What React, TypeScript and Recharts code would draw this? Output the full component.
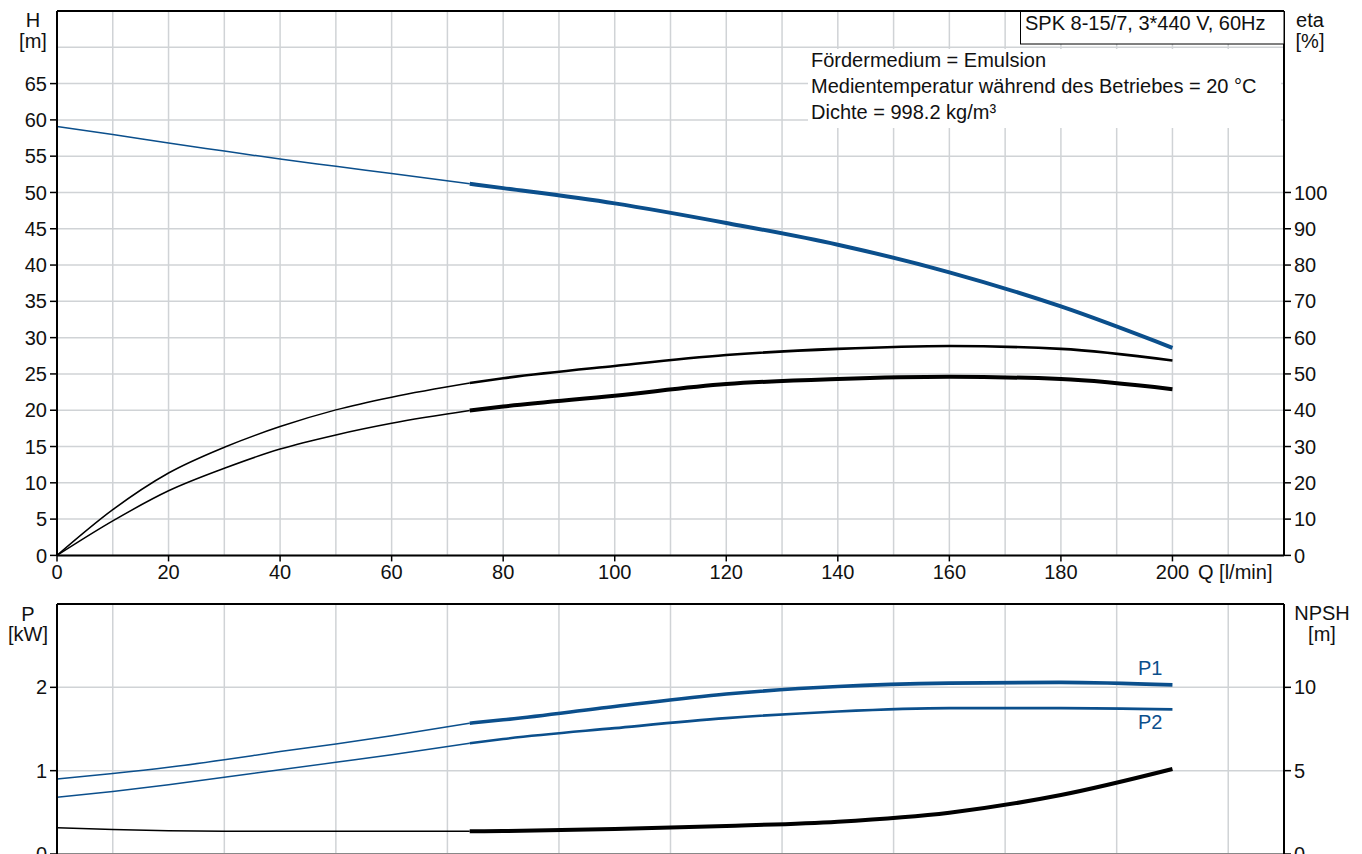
import { CartesianGrid, Line, LineChart, ReferenceLine, XAxis, YAxis } from "recharts";

const BLUE = "#0b4f8c";
const GRID = "#d0d3d6";
const INK = "#111";
const FONT = "'Liberation Sans', Arial, sans-serif";
const FS = 20;

// flow points: thin part of the curves up to 74 l/min, thick part after
const qThin = [0, 10, 20, 30, 40, 50, 60, 74];
const qThick = [74, 80, 100, 120, 140, 160, 180, 200];

const headThin = [59.1, 58.0, 56.8, 55.7, 54.6, 53.6, 52.6, 51.2];
const headThick = [51.2, 50.6, 48.5, 45.8, 42.8, 39.0, 34.3, 28.6];
const etaPumpThin = [0, 12.6, 22.7, 29.8, 35.5, 40.1, 43.6, 47.5];
const etaPumpThick = [47.5, 48.8, 52.2, 55.2, 56.9, 57.7, 56.9, 53.7];
const etaTotalThin = [0, 9.5, 17.8, 24.0, 29.3, 33.2, 36.4, 39.9];
const etaTotalThick = [39.9, 41.0, 44.0, 47.2, 48.6, 49.2, 48.6, 45.8];

const p1Thin = [0.9, 0.965, 1.04, 1.13, 1.23, 1.32, 1.42, 1.57];
const p1Thick = [1.57, 1.61, 1.77, 1.92, 2.01, 2.05, 2.06, 2.03];
const p2Thin = [0.68, 0.75, 0.83, 0.92, 1.01, 1.1, 1.19, 1.33];
const p2Thick = [1.33, 1.38, 1.51, 1.63, 1.71, 1.75, 1.75, 1.735];
const npshThin = [1.58, 1.47, 1.4, 1.37, 1.36, 1.36, 1.36, 1.36];
const npshThick = [1.36, 1.38, 1.5, 1.68, 1.94, 2.48, 3.54, 5.1];

const qTicks = [0, 20, 40, 60, 80, 100, 120, 140, 160, 180, 200];
const qMinor = [10, 30, 50, 70, 90, 110, 130, 150, 170, 190, 210];
const hTicks = [0, 5, 10, 15, 20, 25, 30, 35, 40, 45, 50, 55, 60, 65];
const hExtra = [70];
const etaTicks = [0, 10, 20, 30, 40, 50, 60, 70, 80, 90, 100];
const pTicks = [0, 1, 2];
const npshTicks = [0, 5, 10];

const infoLines = [
  "Fördermedium = Emulsion",
  "Medientemperatur während des Betriebes = 20 °C",
  "Dichte = 998.2 kg/m³",
];

const pts = (qs: number[], vs: number[]) => qs.map((q, i) => ({ q, v: vs[i] }));

const tickStyle = { fontSize: FS, fill: INK };
const axisStyle = { stroke: "#000", strokeWidth: 2 };
const tickLineStyle = { stroke: "#000", strokeWidth: 1.5 };

function curve(key: string, yAxisId: string, data: { q: number; v: number }[], color: string, width: number, label?: any) {
  return (
    <Line
      key={key}
      xAxisId="q"
      yAxisId={yAxisId}
      data={data}
      dataKey="v"
      type="monotone"
      stroke={color}
      strokeWidth={width}
      dot={false}
      activeDot={false}
      label={label}
      isAnimationActive={false}
    />
  );
}

const endLabel = (text: string, dy: number) => (props: any) => {
  if (props.index !== qThick.length - 1) return <g key={props.index} />;
  return (
    <text key={props.index} x={props.x - 10} y={props.y + dy} textAnchor="end" fill={BLUE} fontSize={FS}>
      {text}
    </text>
  );
};

function HeadChart() {
  return (
    <LineChart width={1362} height={600} margin={{ top: 11, right: 0, bottom: 0, left: 0 }}>
      <CartesianGrid xAxisId="q" yAxisId="h" stroke={GRID} strokeWidth={1.5} />
      <XAxis
        xAxisId="q"
        dataKey="q"
        type="number"
        domain={[0, 220]}
        ticks={qTicks}
        interval={0}
        height={44.6}
        axisLine={axisStyle}
        tickLine={tickLineStyle}
        tickSize={6}
        tickMargin={3}
        tick={tickStyle}
      />
      <YAxis
        yAxisId="h"
        type="number"
        domain={[0, 75]}
        ticks={hTicks}
        interval={0}
        width={57}
        axisLine={axisStyle}
        tickLine={tickLineStyle}
        tickSize={7}
        tickMargin={3}
        tick={tickStyle}
      />
      <YAxis
        yAxisId="eta"
        orientation="right"
        type="number"
        domain={[0, 150]}
        ticks={etaTicks}
        interval={0}
        width={78}
        axisLine={axisStyle}
        tickLine={tickLineStyle}
        tickSize={7}
        tickMargin={3}
        tick={{ ...tickStyle, textAnchor: "start" }}
      />
      {qMinor.map((q) => (
        <ReferenceLine key={`v${q}`} xAxisId="q" yAxisId="h" x={q} stroke={GRID} strokeWidth={1.5} />
      ))}
      {hExtra.map((h) => (
        <ReferenceLine key={`h${h}`} xAxisId="q" yAxisId="h" y={h} stroke={GRID} strokeWidth={1.5} />
      ))}
      <ReferenceLine xAxisId="q" yAxisId="h" y={75} stroke="#000" strokeWidth={2} />
      {curve("hThin", "h", pts(qThin, headThin), BLUE, 1.5)}
      {curve("hThick", "h", pts(qThick, headThick), BLUE, 4)}
      {curve("epThin", "eta", pts(qThin, etaPumpThin), "#000", 1.5)}
      {curve("epThick", "eta", pts(qThick, etaPumpThick), "#000", 2.6)}
      {curve("etThin", "eta", pts(qThin, etaTotalThin), "#000", 1.5)}
      {curve("etThick", "eta", pts(qThick, etaTotalThick), "#000", 4)}
    </LineChart>
  );
}

function PowerChart() {
  return (
    <LineChart width={1362} height={290} margin={{ top: 10, right: 0, bottom: 0, left: 0 }}>
      <CartesianGrid xAxisId="q" yAxisId="p" stroke={GRID} strokeWidth={1.5} />
      {/* the Q labels of this panel fall below the page, as in the original */}
      <XAxis
        xAxisId="q"
        dataKey="q"
        type="number"
        domain={[0, 220]}
        ticks={qTicks}
        interval={0}
        height={30}
        axisLine={{ stroke: "#888", strokeWidth: 2 }}
        tickLine={false}
        tick={false}
      />
      <YAxis
        yAxisId="p"
        type="number"
        domain={[0, 3]}
        ticks={pTicks}
        interval={0}
        width={57}
        axisLine={axisStyle}
        tickLine={tickLineStyle}
        tickSize={7}
        tickMargin={3}
        tick={tickStyle}
      />
      <YAxis
        yAxisId="npsh"
        orientation="right"
        type="number"
        domain={[0, 15]}
        ticks={npshTicks}
        interval={0}
        width={78}
        axisLine={axisStyle}
        tickLine={tickLineStyle}
        tickSize={7}
        tickMargin={3}
        tick={{ ...tickStyle, textAnchor: "start" }}
      />
      {qMinor.map((q) => (
        <ReferenceLine key={`v${q}`} xAxisId="q" yAxisId="p" x={q} stroke={GRID} strokeWidth={1.5} />
      ))}
      <ReferenceLine xAxisId="q" yAxisId="p" y={3} stroke="#000" strokeWidth={2} />
      {curve("p1Thin", "p", pts(qThin, p1Thin), BLUE, 1.5)}
      {curve("p1Thick", "p", pts(qThick, p1Thick), BLUE, 3.6, endLabel("P1", -10))}
      {curve("p2Thin", "p", pts(qThin, p2Thin), BLUE, 1.5)}
      {curve("p2Thick", "p", pts(qThick, p2Thick), BLUE, 2.6, endLabel("P2", 20))}
      {curve("nThin", "npsh", pts(qThin, npshThin), "#000", 1.5)}
      {curve("nThick", "npsh", pts(qThick, npshThick), "#000", 4)}
    </LineChart>
  );
}

export default function App() {
  return (
    <div
      style={{
        position: "absolute",
        left: 0,
        top: 0,
        width: 1362,
        height: 854,
        overflow: "hidden",
        background: "#fff",
        fontFamily: FONT,
      }}
    >
      <div style={{ position: "absolute", left: 0, top: 0 }}>
        <HeadChart />
      </div>
      <div style={{ position: "absolute", left: 0, top: 594 }}>
        <PowerChart />
      </div>
      <svg
        width={1362}
        height={854}
        style={{ position: "absolute", left: 0, top: 0, pointerEvents: "none" }}
        fontFamily={FONT}
        fontSize={FS}
        fill={INK}
      >
        <text x={33} y={27} textAnchor="middle">H</text>
        <text x={33} y={48} textAnchor="middle">[m]</text>
        <text x={1310} y={27} textAnchor="middle">eta</text>
        <text x={1310} y={48} textAnchor="middle">[%]</text>
        <text x={1198} y={579}>Q [l/min]</text>
        <text x={28} y={621} textAnchor="middle">P</text>
        <text x={28} y={641} textAnchor="middle">[kW]</text>
        <text x={1322} y={620} textAnchor="middle">NPSH</text>
        <text x={1322} y={641} textAnchor="middle">[m]</text>

        <rect x={1020.5} y={11.5} width={263.5} height={32.5} fill="#fff" stroke="#000" strokeWidth={1} />
        <text x={1025} y={30}>SPK 8-15/7, 3*440 V, 60Hz</text>

        <rect x={808} y={49} width={473} height={79} fill="#fff" />
        {infoLines.map((t, i) => (
          <text key={t} x={811} y={67 + i * 26}>
            {t}
          </text>
        ))}
      </svg>
    </div>
  );
}
